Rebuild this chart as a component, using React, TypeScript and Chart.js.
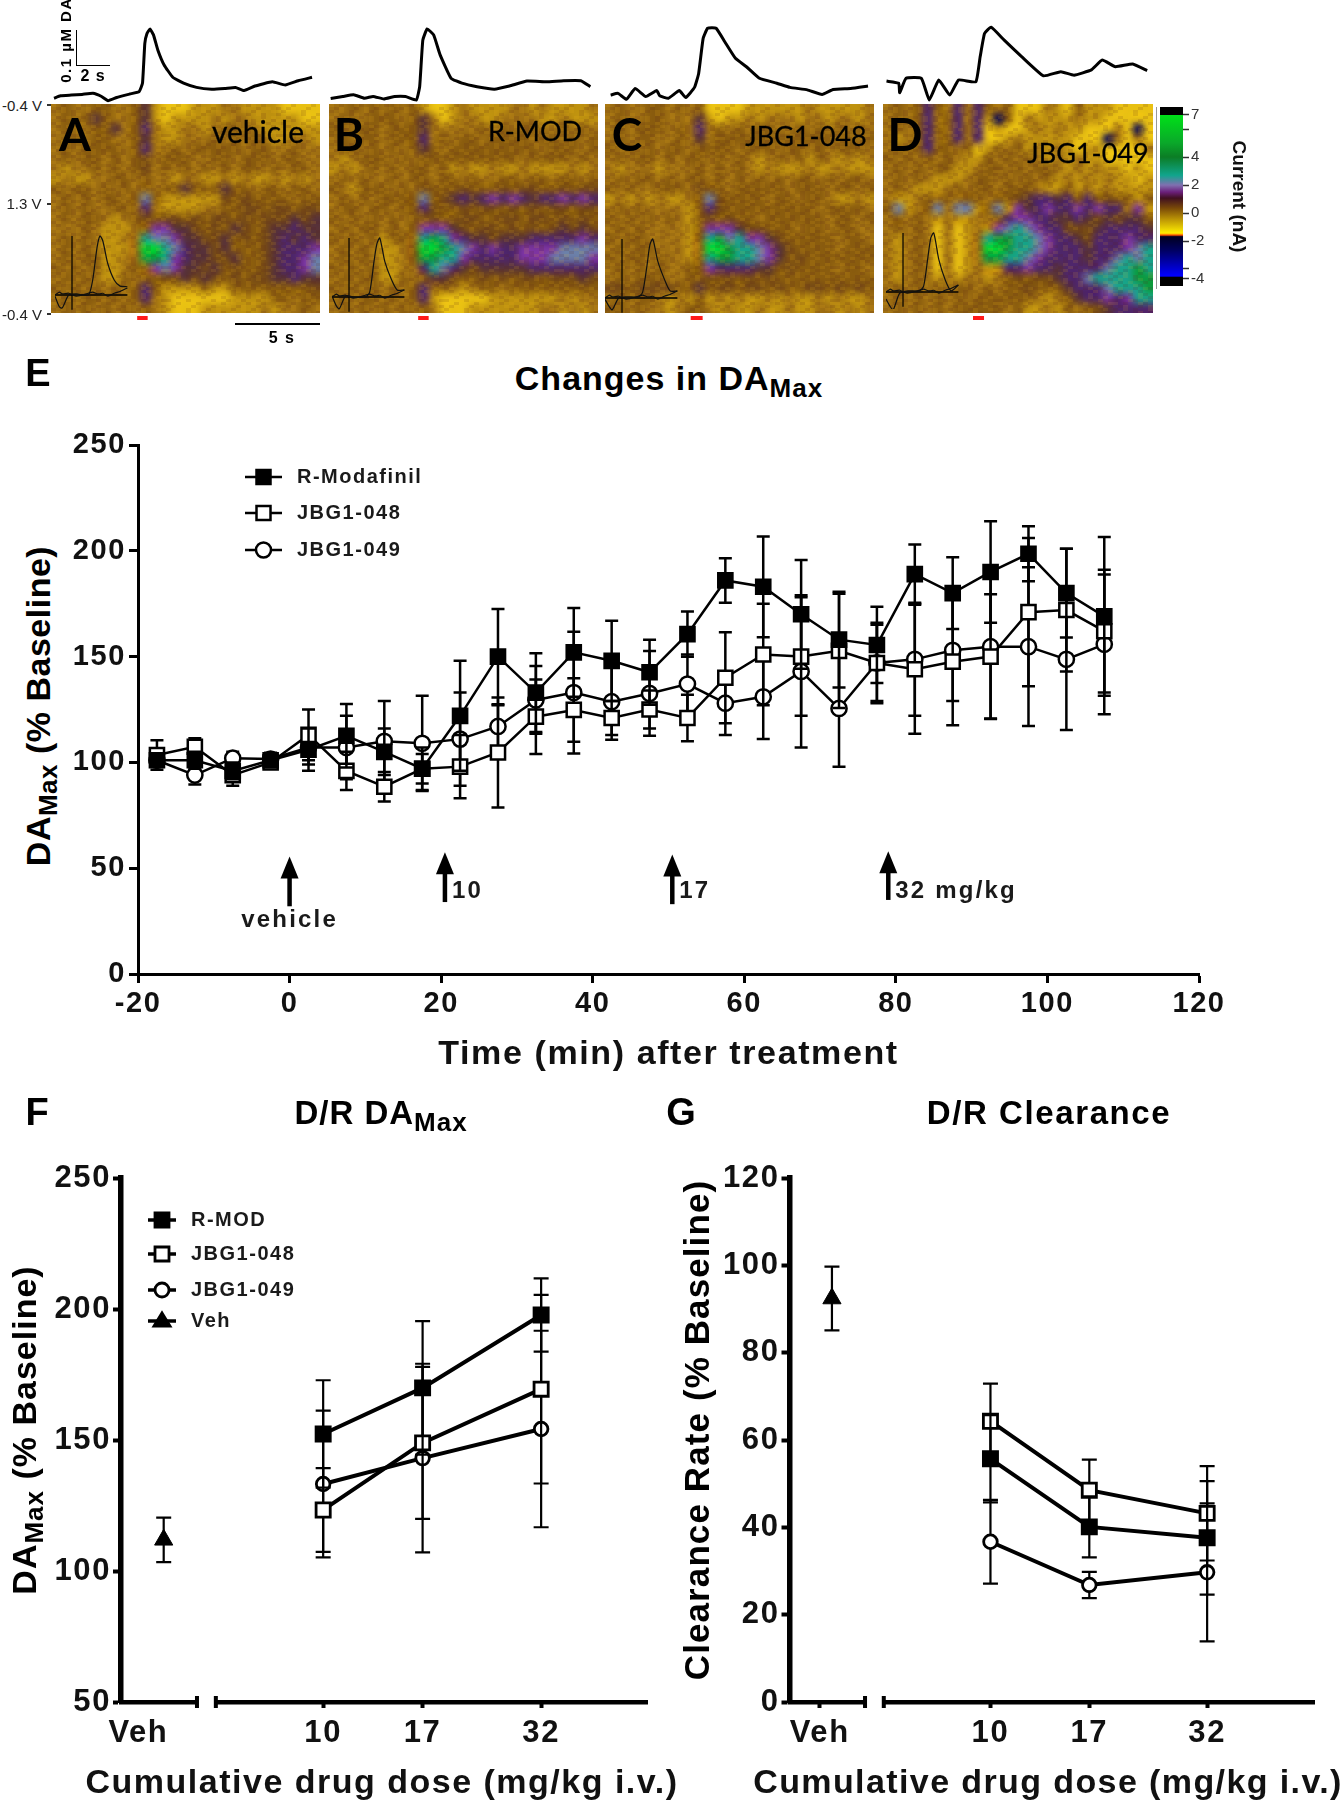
import React, { useEffect, useRef } from 'react';
import { Chart, registerables } from 'chart.js';
Chart.register(...registerables);

/* ---------- Panel E data ---------- */
const timePoints = [-17.5,-12.5,-7.5,-2.5,2.5,7.5,12.5,17.5,22.5,27.5,32.5,37.5,42.5,47.5,52.5,57.5,62.5,67.5,72.5,77.5,82.5,87.5,92.5,97.5,102.5,107.5];
const rModMean = [101,101,96,101,106,112.6,105,97,122,150,133,152,148,142.6,160.6,186,183,170,158,155.5,189,180,190,198.6,180,169];
const rModErr = [3,4,4,3,10,15,11,10,26,22.5,18.6,21,19,15.4,10.7,10.5,23.8,25.7,22.6,18,14,17,24,13,21,37.5];
const j048Mean = [103.5,107.4,94,100,113,96,88.5,97,98,104.7,121.6,124.8,121,125,121,140,151,150,152.7,147,144,147.6,150,171,172,162];
const j048Err = [7,4,5,3,12,9,7,7,15,26,17.6,15,8,9,11,21.5,24,28,27,19,30.5,30,29.5,35,29,29];
const j049Mean = [101,94,102,101.6,107,107,110,109,111,117,129.5,133,128.7,132.6,137,128,131,143,125.5,147,148.7,153,154.7,154.7,148.7,155.8];
const j049Err = [3,4.5,3,3,8,15,19,22.5,22,10,16,28.8,18,20,14,15,20,36,27.5,18,26.7,24,34,37.5,33.4,33];
const arrowTimes = [0,20.5,50.5,79];
const arrowTips = [55.5,57.5,56.5,58];
const arrowBases = [32,34,33,35];
const arrowLabels = ['vehicle','10','17','32 mg/kg'];

/* ---------- Panels F, G data ---------- */
const doses = [10,17,32];
const vehDose = 4.27;
const fRMod = [152.3,169.9,197.7];
const fRModErr = [20.5,25.5,14];
const f048 = [123.3,148.9,169.4];
const f048Err = [16,29,36];
const f049 = [133.2,143.1,154.2];
const f049Err = [28,36,37.5];
const fVeh = [111.9];
const fVehErr = [8.5];
const gRMod = [55.7,40.1,37.6];
const gRModErr = [10,7,13];
const g048 = [64.3,48.5,43.2];
const g048Err = [8.6,7,10.8];
const g049 = [36.7,26.8,29.7];
const g049Err = [9.6,3,15.8];
const gVeh = [92.4];
const gVehErr = [7.3];

/* ---------- Traces above the colour plots (s, µM) ---------- */
const traceAT = [.18,.57,1.22,1.87,2.52,3.04,3.43,3.95,4.73,5.3,5.5,5.64,5.77,5.95,6.16,6.42,6.8,7.32,7.97,8.75,9.66,10.44,11.09,11.61,12.26,13.3,14.08,14.86,15.69];
const traceAV = [.005,.012,.014,.016,.019,.01,-.002,.007,.017,.024,.048,.162,.19,.203,.186,.143,.1,.065,.048,.036,.031,.033,.036,.027,.04,.052,.043,.055,.065];
const traceBT = [.1,.83,1.48,2.13,2.65,3.3,3.95,4.6,5.25,5.45,5.64,5.9,6.29,6.68,7.34,7.99,8.9,9.94,10.85,11.9,13.06,14.1,15.14,15.71];
const traceBV = [.004,.01,.015,.005,.01,.003,.01,.01,0,.038,.171,.203,.186,.129,.062,.048,.038,.031,.04,.054,.052,.055,.055,.038];
const traceCT = [.34,.78,1.29,1.81,2.45,3.11,3.29,3.81,4.47,4.85,5.38,5.63,5.9,6.17,6.68,7.19,7.84,8.5,9.28,10.33,11.12,12.16,13.05,13.71,14.77,15.81];
const traceCV = [.014,.019,.002,.033,.01,.027,.012,.005,.027,.007,.036,.076,.176,.205,.205,.167,.119,.095,.062,.048,.036,.029,.016,.03,.033,.04];
const traceDT = [.21,.94,1,1.38,2.3,2.77,3.34,4,4.52,5.56,5.82,6.08,6.47,7.26,8.3,9.61,10.65,11.44,12.48,13.13,13.92,14.96,15.82];
const traceDV = [.054,.048,.021,.062,.062,0,.057,.014,.057,.052,.124,.19,.208,.171,.124,.069,.081,.071,.086,.114,.095,.103,.084];

/* ---------- Inset voltammograms ---------- */
const cvPotential = [0,.06,.1,.19,.3,.46,.52,.58,.62,.66,.73,.82,.9,1];
const cvA = [-.02,-.2,-.22,0,.02,0,.25,.8,1,.92,.53,.25,.15,.14];
const cvB = [.02,-.15,-.2,.02,0,0,.08,.6,.9,1,.6,.3,.12,.12];
const cvC = [-.02,-.15,-.2,0,.02,.02,.1,.55,.9,1,.62,.32,.12,.12];
const cvD = [-.12,-.25,-.3,-.02,.02,.02,.1,.6,.92,1,.55,.2,.02,.12];
const cvReturn = [0,.05,.02,.03,-.02,.03,.05,.02,.02,.03,-.02,.03,.06,.12];

/* ---------- Colour plots: one character per cell, see heatLevels ---------- */
const heatA = [
".,..,,..,pyYYYyyy..yyyyYYYY",
".,.,p,..,pyYyyyy.y..yyyyyYY",
".,..,,p.,P.yy..y.,,..yyyyyy",
"..,.,,..,p.yy...,.,.,.yy..y",
".,.,,,,.,P..,.,,,,,.,,..,..",
".,.,,.,.,-.,,,..,,.,,,.,,..",
".y..,.,.,-.,.,.,.,.,,.,.,,.",
"y.yy..,,.,..y..yy.y.yy.y.y.",
",.,,.,.,.,.,,p,,,p,,.,,.,,.",
".,.,.,,.,g,yyyyyy-,-,,,,.,,",
".,.,..,,.P.yyyy..,,--,--,--",
".,.,,.y.,-,--,-,--,-,---p-p",
"...,.yyy.,VVpp-,-,p-,-ppPpp",
".,.,.yy..tggVpp--p,-,-pPpPp",
".,.,.yyy.BBtgPpp-p,,,-pPPPV",
".,.,,yy..GGtVPpp--p,,-pPPVg",
",.,.,yy.,.VgVpp-p,-,,-pPPVg",
".,.,.yy,.,,--p-p-,-,--ppPpp",
",.,.,.,.,P,yyyy,yy,,,,,,,,-",
".,.,,.,.,P.yYYYYYYyyyy,,.,,",
".,.,.,.,.,.yYYYyyyyyy.y..,.",
];
const heatB = [
"..,.,.,.,yYYy.yyyy..y.yyyy.",
".,..,,,.,p.Yy..yy....yy.yyy",
",,.,,.,,,p.....,.,.,,..,.,.",
".,.,,.,,,P.,.,,.,,,,.,,.,.,",
".,,.,.,.,p,.,,,,,,,,,.,,,.,",
".y.,,,.,.,,,,,,,,,,.,,,,.,.",
"y.y.,.,.,,.,y.yy.yy.yyyy.y.",
".,.,..,.,,.,,.,..,,.,,.,,.,",
",.y,,,.,.-,,,-,,,-,--,,-,--",
".,.,.,,,,g,-pPpPVPVPpPPVPVP",
".,,.,,.,,P-,,-,--,-,-,--,--",
",.,.,.,.,,-,,--,,--,--,-,-,",
".,.,,.,.,VVVp-,--,-,-,-p-p-",
",.,.,y,,.tGtVPpp-pppPPPPPVP",
".,.,.yy.,BBGtgVPVPPVVVVgggg",
".,.,.yy.,GGttVPPPPPVVVggggV",
",.,.,yy..PtgPp-pppppPPPPPPP",
".,.,,yy,.,pp-,,-,-,--,---p-",
",.,.,.,.,P.,.y.,,.,,,,,,,,,",
".,.,,.,.,PyYYYYYyyyyyyy.y..",
".,.,.,.,.,.YYYyyyyyyy..y.y.",
];
const heatC = [
".,..,,.,.,YYYYyyyyyy.yyyyy.",
".,..,,...pyYyy.y...y..y..y.",
".,.,,,.,.P.,.,.,,..,.,.,.,.",
".,.,,..,.p.,,,,,,,,,,,,.,.,",
",.,.,.,,.,,,,.,,,.,,.,.,,,.",
".,.,,.,.,,.,.,.y.,.,y,.y.y.",
".y...y...,.,.,.y.yyy.yy.yyy",
".,.,,.,.,,.,.,.,.,.,,.,.,,.",
",.,..,,,.-,,.,,,,,.,,,.,,.,",
"y.y.y.yy.,g-,,,,.,,.,,.yy.y",
".,.,....y,P-,,,,,,,,,.,,,,.",
",.,.,.,.y,-,-,,.,,,,,,.,,.,",
".,.,....y,VVVp--,,,.,,.,,..",
",.,,....y,tGgtVVp-,,,,,.,,.",
".,.,,...y.BBGttgVp-,,,,.,,,",
",.,,.,..y,tGGttgVp,-,,,,,,,",
".,.,.,..,,VPPPPpp,-,,,,.,,.",
".,.,,,..,,-,-,-,-,,,,,,,,,,",
"--,----,,p,--,--,-,,--,-,-,",
".,.,,.y.y,y.y.yy.y.yy.y.yy.",
",,.,..y.,,.y.yy.yy.yy..y.y.",
];
const heatD = [
".,.,P,.P.P,.,YYY.yY,yyyYYYY",
".,.,P.,P.Pyn,Y.yyyy.yyYYYYY",
".,.,P,.P.PYyYYy.y.yyYYY.YnY",
".y.,P.,P.PYYy.yyyyyYYYn.Y.Y",
".,.,P,,.,Yy,.,y.y.yYyyYYYY.",
",.,.,.,.yy,.,.,.y.y.yyYYYYY",
".,.,.,,yy.,,.,.,,.y.y.yyYyY",
".,.,.yyy.,,.,.,.,y.y.y.yyYy",
".,.yyy.,.,,.,,,.yy,y.y.yyyy",
".yy.,.,.,,.,,-pPPpP,P,-,,y,",
",gy.,g.ggy,gyVpPVPPVPVPP.Vy",
".,.,.y.yy..,PVVPPppPp-p-pp,",
".,.,.Y.Yy.yVgtgVPP---pPPPPp",
".y.,.Y.Yy.tGGttgVPPp-PPPVPP",
".y.,.Y.Yy.BBGttgVPPPpPPPVgt",
".y.,.Y.Yy.GGttgVPPPPpPPgtgt",
".y.,.Y.Yy.yyPPVPPpPPPPgttGt",
".y.,.y.y..y.,-,--pPPgttttGG",
".,.,.,.,,.,.,,-,,,pPPPgtttG",
".,.,.,.,.,,,,,,.y.,pPPVPVtt",
".,.,.,.,,,,,.,yy.y,.,-pPPPP",
];
const heatLevels: Record<string, number[]> = {
  '.': [160,112,18], ',': [138,92,14], '-': [118,74,22], y: [190,145,15], Y: [232,192,18],
  p: [88,50,56], P: [79,38,106], V: [123,52,158], g: [106,122,165], t: [26,160,136],
  G: [12,154,64], B: [0,216,50], n: [0,0,85],
};
const heatGrain = [
"+.-..+-..+.-.+..-+.-..+",
".-+..-.+.-..+.-+..-.+.-",
"-.+.-..+-.+..-.+.-+..+.",
".+..-+.-..+-.+..-.+-..-",
"+-.+..-.+.-..+-.+..-.+.",
"..-.+-..+.-+..-.+-.+.-+",
"-+..-.+-..+.-.+..-+.-..",
".-.+.-..+-.+.-+.-..+.-+",
"+..-.+-.-.+..-.+-.+..-.",
".+-..+.-+..-.+..-.+-.+.",
"-..+-.+..-+.-.+-..-.+.-",
];
const stimA = [5.18,5.81];
const stimB = [5.36,5.99];
const stimC = [5.15,5.87];
const stimD = [5.39,6.05];

/* ---------- Colour bar ---------- */
const currentTicks = [7,6,4,2,0,-2,-3.93,-4.7];
const currentTickLabels = ['7','','4','2','0','-2','','-4'];
const currentValues = [7.57,7.0,6.99,5,4,2.7,2,1.5,1.07,.35,-.5,-1.43,-1.57,-1.68,-2.64,-4.5,-4.57,-5.2];
const currentColours = ['#000','#000','#00e018','#0aa82a','#0b7d25','#10a58c','#8070b0','#6b1f7a','#401020','#7a4a08','#c09a05','#ffee00','#ff5000','#000020','#000060','#0000ff','#000','#000'];

/* ---------- helpers ---------- */
const SANS = '"Liberation Sans", Arial, sans-serif';
const BLACK = '#000';
const xy = (xs: number[], ys: number[]) => xs.map((x, i) => ({ x, y: ys[i] }));

function Plot({ left, top, width, height, make }: any) {
  const ref = useRef<HTMLCanvasElement>(null);
  useEffect(() => {
    const c = new Chart(ref.current as any, make());
    return () => c.destroy();
  }, []);
  return <canvas ref={ref} width={width} height={height} style={{ position: 'absolute', left, top, width, height }} />;
}

function T({ x, y, size, weight = 'normal', family = SANS, rot = 0, color = '#000', spacing = 0, children, stroke = 0 }: any) {
  return (
    <div style={{
      position: 'absolute', left: x, top: y, transform: `translate(-50%,-50%) rotate(${rot}deg)`,
      whiteSpace: 'nowrap', fontFamily: family, fontSize: size, fontWeight: weight, color,
      letterSpacing: spacing, lineHeight: 1, WebkitTextStroke: stroke ? `${stroke}px ${color}` : undefined,
    }}>{children}</div>
  );
}
const Sub = ({ children, size }: any) => <span style={{ fontSize: size, position: 'relative', top: '0.28em' }}>{children}</span>;
const Box = ({ l, t, w, h, c = '#000' }: any) => <div style={{ position: 'absolute', left: l, top: t, width: w, height: h, background: c }} />;

const base = (extra: any = {}) => ({
  responsive: false, animation: false, devicePixelRatio: 1,
  plugins: { legend: { display: false }, tooltip: { enabled: false }, title: { display: false } },
  ...extra,
});

const wideText = (spacing: string) => ({
  id: 'wideText',
  beforeDraw(chart: any) { chart.ctx.letterSpacing = spacing; },
});

const errorBars = (capHalf: number, lw: number) => ({
  id: 'errorBars',
  beforeDatasetDraw(chart: any, args: any) {
    const ds = chart.data.datasets[args.index];
    if (!ds.err) return;
    const { x, y } = chart.scales;
    const ctx = chart.ctx;
    ctx.save();
    ctx.strokeStyle = BLACK;
    ctx.lineWidth = lw;
    ds.data.forEach((p: any, i: number) => {
      const px = x.getPixelForValue(p.x);
      const hi = y.getPixelForValue(p.y + ds.err[i]);
      const lo = y.getPixelForValue(p.y - ds.err[i]);
      ctx.beginPath();
      ctx.moveTo(px, hi); ctx.lineTo(px, lo);
      ctx.moveTo(px - capHalf, hi); ctx.lineTo(px + capHalf, hi);
      ctx.moveTo(px - capHalf, lo); ctx.lineTo(px + capHalf, lo);
      ctx.stroke();
    });
    ctx.restore();
  },
});

function marker(ctx: any, kind: string, x: number, y: number, size: number, bw: number) {
  ctx.save();
  ctx.lineWidth = bw;
  ctx.strokeStyle = BLACK;
  ctx.fillStyle = kind === 'open' || kind === 'circle' ? '#fff' : BLACK;
  ctx.beginPath();
  if (kind === 'circle') ctx.arc(x, y, size / 2, 0, Math.PI * 2);
  else if (kind === 'tri') { ctx.moveTo(x, y - size / 2 - 2); ctx.lineTo(x + size / 2 + 2, y + size / 2 - 1); ctx.lineTo(x - size / 2 - 2, y + size / 2 - 1); ctx.closePath(); }
  else ctx.rect(x - size / 2, y - size / 2, size, size);
  ctx.fill(); ctx.stroke();
  ctx.restore();
}

const legendPlugin = (items: any[], o: any) => ({
  id: 'customLegend',
  afterDraw(chart: any) {
    const ctx = chart.ctx;
    items.forEach((it) => {
      ctx.save();
      ctx.strokeStyle = BLACK; ctx.lineWidth = o.lw;
      ctx.beginPath(); ctx.moveTo(o.x0, it.y); ctx.lineTo(o.x1, it.y); ctx.stroke();
      marker(ctx, it.kind, (o.x0 + o.x1) / 2, it.y, it.size, o.bw);
      ctx.fillStyle = '#1a1a1a';
      ctx.font = `bold ${o.font}px ${SANS}`;
      ctx.letterSpacing = o.spacing;
      ctx.textBaseline = 'middle';
      ctx.fillText(it.label, o.tx, it.y);
      ctx.restore();
    });
  },
});

const series = (data: any[], err: number[], kind: string, order: number, lw: number, r: number, bw: number) => ({
  type: 'scatter', showLine: kind !== 'tri', data, err, order, clip: false,
  borderColor: BLACK, borderWidth: lw, tension: 0,
  pointStyle: kind === 'circle' ? 'circle' : kind === 'tri' ? 'triangle' : 'rect',
  pointRadius: r, pointHoverRadius: r,
  pointBackgroundColor: kind === 'filled' || kind === 'tri' ? BLACK : '#fff',
  pointBorderColor: BLACK, pointBorderWidth: bw,
});

/* ---------- Panel E ---------- */
const makeE = () => ({
  type: 'scatter',
  data: {
    datasets: [
      series(xy(timePoints, rModMean), rModErr, 'filled', 0, 2.5, 10, 2.5),
      series(xy(timePoints, j048Mean), j048Err, 'open', 1, 2.5, 10, 2.5),
      series(xy(timePoints, j049Mean), j049Err, 'circle', 2, 2.5, 7.6, 2.5),
    ],
  },
  options: base({
    layout: { padding: { left: 0, right: 144, top: 45, bottom: 0 } },
    scales: {
      x: {
        type: 'linear', min: -20, max: 120,
        afterFit: (s: any) => { s.height = 126; },
        ticks: { stepSize: 20, color: '#111', padding: 4, maxRotation: 0, font: { family: SANS, size: 29, weight: 'bold' } },
        grid: { drawOnChartArea: false, tickLength: 9, tickWidth: 3, tickColor: BLACK },
        border: { color: BLACK, width: 3 },
        title: { display: true, text: 'Time (min) after treatment', color: '#111', padding: { top: 0, bottom: 25 }, font: { family: SANS, size: 34, weight: 'bold' } },
      },
      y: {
        type: 'linear', min: 0, max: 250,
        afterFit: (s: any) => { s.width = 138; },
        ticks: { stepSize: 50, color: '#111', padding: 3, font: { family: SANS, size: 29, weight: 'bold' } },
        grid: { drawOnChartArea: false, tickLength: 9, tickWidth: 3, tickColor: BLACK },
        border: { color: BLACK, width: 3 },
      },
    },
  }),
  plugins: [
    wideText('1.6px'),
    errorBars(6.5, 2.5),
    legendPlugin([
      { label: 'R-Modafinil', kind: 'filled', size: 14, y: 77 },
      { label: 'JBG1-048', kind: 'open', size: 14, y: 113 },
      { label: 'JBG1-049', kind: 'circle', size: 15, y: 150 },
    ], { x0: 245, x1: 282, tx: 297, lw: 2.5, bw: 2.5, font: 20, spacing: '1.5px' }),
    {
      id: 'doseArrows',
      afterDraw(chart: any) {
        const { x, y } = chart.scales;
        const ctx = chart.ctx;
        ctx.save();
        ctx.fillStyle = BLACK; ctx.strokeStyle = BLACK;
        arrowTimes.forEach((t, i) => {
          const px = x.getPixelForValue(t);
          const tip = y.getPixelForValue(arrowTips[i]);
          const bot = y.getPixelForValue(arrowBases[i]);
          ctx.lineWidth = 4.5;
          ctx.beginPath(); ctx.moveTo(px, tip + 15); ctx.lineTo(px, bot); ctx.stroke();
          ctx.beginPath(); ctx.moveTo(px, tip); ctx.lineTo(px + 9, tip + 22); ctx.lineTo(px - 9, tip + 22); ctx.closePath(); ctx.fill();
          ctx.font = `bold 24px ${SANS}`;
          ctx.letterSpacing = '2.2px';
          ctx.textBaseline = 'middle';
          ctx.fillStyle = '#1a1a1a';
          if (i === 0) {
            ctx.textAlign = 'center';
            ctx.fillText(arrowLabels[i], px, y.getPixelForValue(25.5));
          } else {
            ctx.textAlign = 'left';
            ctx.fillText(arrowLabels[i], px + 7, y.getPixelForValue(39));
          }
          ctx.fillStyle = BLACK;
        });
        ctx.restore();
      },
    },
  ],
});

/* ---------- Panels F, G ---------- */
const BREAK_DOSES = [5.1, 5.64];
const makeDose = (o: any) => () => ({
  type: 'scatter',
  data: {
    datasets: [
      series(xy(doses, o.r), o.rE, 'filled', 0, 4, 10, 2.8),
      series(xy(doses, o.a), o.aE, 'open', 1, 4, 10, 2.8),
      series(xy(doses, o.b), o.bE, 'circle', 2, 4, 6.8, 2.8),
      series(xy([vehDose], o.v), o.vE, 'tri', 3, 2, 10.5, 1),
    ],
  },
  options: base({
    layout: { padding: { left: 0, right: o.padRight, top: 48, bottom: 0 } },
    scales: {
      x: {
        type: 'logarithmic', min: o.xMin, max: o.xMax,
        afterFit: (s: any) => { s.height = 98; },
        afterBuildTicks: (s: any) => { s.ticks = [o.vehTick, ...doses].map((value) => ({ value })); },
        ticks: {
          autoSkip: false, maxRotation: 0, minRotation: 0, color: '#111', padding: 7,
          callback: (v: number) => (v === o.vehTick ? 'Veh' : String(v)),
          font: { family: SANS, size: 31, weight: 'bold' },
        },
        grid: {
          drawOnChartArea: false, tickLength: 6, tickWidth: 4,
          tickColor: (c: any) => (c.tick && c.tick.value === o.vehTick && !o.showVehTick ? 'rgba(0,0,0,0)' : BLACK),
        },
        border: { display: false },
      },
      y: {
        type: 'linear', min: o.yMin, max: o.yMax,
        afterFit: (s: any) => { s.width = o.axisWidth; },
        ticks: { stepSize: o.yStep, color: '#111', padding: 2, font: { family: SANS, size: 31, weight: 'bold' } },
        grid: { drawOnChartArea: false, tickLength: 8, tickWidth: 4, tickColor: BLACK },
        border: { color: BLACK, width: 5.5 },
      },
    },
  }),
  plugins: [
    wideText('1.6px'),
    errorBars(7.5, 2.2),
    ...(o.legend ? [legendPlugin(o.legend, { x0: 148, x1: 176, tx: 191, lw: 3.5, bw: 2.8, font: 20, spacing: '1.5px' })] : []),
    {
      id: 'brokenAxis',
      beforeDatasetsDraw(chart: any) {
        const { x } = chart.scales;
        const { bottom, left, right } = chart.chartArea;
        const a = x.getPixelForValue(BREAK_DOSES[0]);
        const b = x.getPixelForValue(BREAK_DOSES[1]);
        const ctx = chart.ctx;
        ctx.save();
        ctx.fillStyle = BLACK;
        ctx.fillRect(left - 2, bottom - 2, a - left + 2, 4.5);
        ctx.fillRect(b, bottom - 2, right - b, 4.5);
        ctx.fillRect(a - 2, bottom - 6, 4, 12);
        ctx.fillRect(b - 2, bottom - 6, 4, 12);
        ctx.restore();
      },
    },
  ],
});

/* ---------- Colour plots ---------- */
const makeHeat = (grid: string[], stim: number[]) => () => ({
  type: 'scatter',
  data: { datasets: [] },
  options: base({
    layout: { padding: { left: 0, right: 0, top: 0, bottom: 8 } },
    scales: {
      x: { type: 'linear', min: 0, max: 16.17, display: false },
      y: { type: 'linear', min: 0, max: 1, display: false },
    },
  }),
  plugins: [{
    id: 'heat',
    beforeDatasetsDraw(chart: any) {
      const { left, top, width, height, bottom, right } = chart.chartArea;
      const rows = grid.length;
      const cols = grid[0].length;
      const off = document.createElement('canvas');
      off.width = cols; off.height = rows;
      const octx = off.getContext('2d') as any;
      const img = octx.createImageData(cols, rows);
      grid.forEach((row, r) => {
        for (let c = 0; c < cols; c++) {
          const col = heatLevels[row[c]] || heatLevels['.'];
          const k = (r * cols + c) * 4;
          img.data[k] = col[0]; img.data[k + 1] = col[1]; img.data[k + 2] = col[2]; img.data[k + 3] = 255;
        }
      });
      octx.putImageData(img, 0, 0);
      const ctx = chart.ctx;
      ctx.save();
      ctx.imageSmoothingEnabled = true;
      ctx.imageSmoothingQuality = 'high';
      ctx.drawImage(off, left, top, width, height);
      ctx.beginPath(); ctx.rect(left, top, width, height); ctx.clip();
      const gw = heatGrain[0].length;
      const gh = heatGrain.length;
      for (let py = top, r = 0; py < bottom; py += 3, r++) {
        for (let px = left, c = 0; px < right; px += 5, c++) {
          const g = heatGrain[r % gh][c % gw];
          if (g === '.') continue;
          ctx.fillStyle = g === '+' ? 'rgba(255,190,30,0.11)' : 'rgba(90,35,25,0.14)';
          ctx.fillRect(px, py, 5, 3);
        }
      }
      ctx.restore();
      ctx.save();
      const { x } = chart.scales;
      ctx.fillStyle = '#ff1a1a';
      ctx.fillRect(x.getPixelForValue(stim[0]), bottom + 3, x.getPixelForValue(stim[1]) - x.getPixelForValue(stim[0]), 4);
      ctx.restore();
    },
  }],
});

const makeTrace = (t: number[], v: number[]) => () => ({
  type: 'scatter',
  data: { datasets: [{ showLine: true, data: xy(t, v), borderColor: BLACK, borderWidth: 3, pointRadius: 0, tension: 0.12, clip: false }] },
  options: base({
    layout: { padding: 0 },
    scales: {
      x: { type: 'linear', min: 0, max: 16.17, display: false },
      y: { type: 'linear', min: -0.0143, max: 0.2857, display: false },
    },
  }),
});

const makeInset = (cv: number[], axisX: number) => () => ({
  type: 'scatter',
  data: {
    datasets: [
      { showLine: true, data: xy(cvPotential, cv), borderColor: '#111', borderWidth: 1.2, pointRadius: 0, tension: 0.25, clip: false },
      { showLine: true, data: xy(cvPotential, cvReturn), borderColor: '#111', borderWidth: 1.2, pointRadius: 0, tension: 0.2, clip: false },
      { showLine: true, data: xy([0, 1], [0, 0]), borderColor: '#000', borderWidth: 1.6, pointRadius: 0, clip: false },
      { showLine: true, data: xy([axisX, axisX], [-.25, 1]), borderColor: '#000', borderWidth: 1.2, pointRadius: 0, clip: false },
    ],
  },
  options: base({
    layout: { padding: 0 },
    scales: {
      x: { type: 'linear', min: 0, max: 1.05, display: false },
      y: { type: 'linear', min: -0.288, max: 1.068, display: false },
    },
  }),
});

/* ---------- Colour bar ---------- */
const makeBar = () => ({
  type: 'bar',
  data: {
    labels: ['Current'],
    datasets: [{
      data: [[currentValues[currentValues.length - 1], currentValues[0]]],
      barPercentage: 1, categoryPercentage: 1, borderWidth: 0,
      backgroundColor: (c: any) => {
        const { chart } = c;
        const a = chart.chartArea;
        if (!a) return '#000';
        const sc = chart.scales.y;
        const g = chart.ctx.createLinearGradient(0, a.top, 0, a.bottom);
        currentValues.forEach((v, i) => {
          const off = (sc.getPixelForValue(v) - a.top) / (a.bottom - a.top);
          g.addColorStop(Math.min(1, Math.max(0, off)), currentColours[i]);
        });
        return g;
      },
    }],
  },
  options: base({
    layout: { padding: { left: 10, right: 0, top: 12, bottom: 14 } },
    scales: {
      x: { display: false, grid: { display: false } },
      y: {
        position: 'right', min: -5.2, max: 7.57,
        afterFit: (s: any) => { s.width = 67; },
        afterBuildTicks: (s: any) => { s.ticks = currentTicks.map((value) => ({ value })); },
        ticks: {
          autoSkip: false, color: '#333', padding: 2, font: { family: SANS, size: 15, weight: 'normal' },
          callback: (v: number) => currentTickLabels[currentTicks.indexOf(v)],
        },
        grid: { drawOnChartArea: false, tickLength: 6, tickWidth: 1.5, tickColor: '#333' },
        border: { display: false },
        title: { display: true, text: 'Current (nA)', color: '#111', padding: { top: 0, bottom: 31 }, font: { family: SANS, size: 19, weight: 'bold' } },
      },
    },
  }),
});

const fLegend = [
  { label: 'R-MOD', kind: 'filled', size: 14, y: 90 },
  { label: 'JBG1-048', kind: 'open', size: 14, y: 124 },
  { label: 'JBG1-049', kind: 'circle', size: 14, y: 160 },
  { label: 'Veh', kind: 'tri', size: 12, y: 191 },
];

const heatPanels = [
  { left: 51, w: 269, grid: heatA, stim: stimA, t: traceAT, v: traceAV, cv: cvA, insetX: 55, base: 295, axis: .235, letter: 'A', lx: 75, label: 'vehicle', tx: 258, ty: 131, ls: 30 },
  { left: 329, w: 269, grid: heatB, stim: stimB, t: traceBT, v: traceBV, cv: cvB, insetX: 332, base: 297, axis: .235, letter: 'B', lx: 349, label: 'R-MOD', tx: 535, ty: 130, ls: 27 },
  { left: 605, w: 269, grid: heatC, stim: stimC, t: traceCT, v: traceCV, cv: cvC, insetX: 605, base: 298, axis: .235, letter: 'C', lx: 627, label: 'JBG1-048', tx: 806, ty: 135, ls: 27 },
  { left: 883, w: 270, grid: heatD, stim: stimD, t: traceDT, v: traceDV, cv: cvD, insetX: 886, base: 292, axis: .235, letter: 'D', lx: 905, label: 'JBG1-049', tx: 1088, ty: 152, ls: 27 },
];

export default function App() {
  return (
    <div style={{ position: 'absolute', left: 0, top: 0, width: 1343, height: 1800, background: '#fff', overflow: 'hidden' }}>
      {heatPanels.map((p) => (
        <React.Fragment key={p.letter}>
          <Plot left={p.left} top={0} width={p.w} height={105} make={makeTrace(p.t, p.v)} />
          <Plot left={p.left} top={104} width={p.w} height={217} make={makeHeat(p.grid, p.stim)} />
          <Plot left={p.insetX} top={p.base - 63} width={76} height={80} make={makeInset(p.cv, p.axis)} />
          <T x={p.lx} y={134} size={46} weight="bold" family="Lato, sans-serif">{p.letter}</T>
          <T x={p.tx} y={p.ty} size={p.ls} family="Lato, sans-serif" stroke={0.3}>{p.label}</T>
        </React.Fragment>
      ))}

      {/* voltage labels */}
      <T x={22} y={105} size={15} color="#222">-0.4 V</T>
      <T x={24} y={203} size={15} color="#222">1.3 V</T>
      <T x={22} y={314} size={15} color="#222">-0.4 V</T>
      <Box l={47} t={104} w={4} h={1.5} c="#333" />
      <Box l={47} t={203} w={4} h={1.5} c="#333" />
      <Box l={47} t={313} w={4} h={1.5} c="#333" />

      {/* scale bars */}
      <Box l={75.5} t={30} w={1.5} h={35} />
      <Box l={75.5} t={64.5} w={34} h={1.5} />
      <T x={65} y={40} size={15} weight="bold" rot={-90} spacing={1.5}>0.1 µM DA</T>
      <T x={93} y={76} size={16} weight="bold" spacing={1}>2 s</T>
      <Box l={235} t={323} w={85} h={1.5} />
      <T x={282} y={338} size={16} weight="bold" spacing={1.5}>5 s</T>

      <Box l={1156} t={107} w={1} h={182} c="#999" />
      <Plot left={1150} top={95} width={100} height={205} make={makeBar} />

      {/* panel E */}
      <T x={38} y={373} size={38} weight="bold">E</T>
      <T x={669} y={378} size={34} weight="bold" spacing={1}>Changes in DA<Sub size={26}>Max</Sub></T>
      <T x={38} y={706} size={34} weight="bold" rot={-90} spacing={0.5}>DA<Sub size={26}>Max</Sub> (% Baseline)</T>
      <Plot left={0} top={400} width={1343} height={700} make={makeE} />

      {/* panel F */}
      <T x={37} y={1112} size={38} weight="bold">F</T>
      <T x={381} y={1112} size={33} weight="bold" spacing={1}>D/R DA<Sub size={26}>Max</Sub></T>
      <T x={24} y={1430} size={34} weight="bold" rot={-90} spacing={1}>DA<Sub size={26}>Max</Sub> (% Baseline)</T>
      <Plot left={0} top={1130} width={700} height={670} make={makeDose({
        r: fRMod, rE: fRModErr, a: f048, aE: f048Err, b: f049, bE: f049Err, v: fVeh, vE: fVehErr,
        yMin: 50, yMax: 250, yStep: 50, axisWidth: 121, padRight: 52, xMin: 3.4, xMax: 56.6, vehTick: 3.73,
        showVehTick: false, legend: fLegend,
      })} />
      <T x={382} y={1781} size={34} weight="bold" color="#111" spacing={1.5}>Cumulative drug dose (mg/kg i.v.)</T>

      {/* panel G */}
      <T x={681} y={1112} size={38} weight="bold">G</T>
      <T x={1049} y={1112} size={33} weight="bold" spacing={1.6}>D/R Clearance</T>
      <T x={696} y={1430} size={35} weight="bold" rot={-90} spacing={1.1}>Clearance Rate (% Baseline)</T>
      <Plot left={670} top={1130} width={673} height={670} make={makeDose({
        r: gRMod, rE: gRModErr, a: g048, aE: g048Err, b: g049, bE: g049Err, v: gVeh, vE: gVehErr,
        yMin: 0, yMax: 120, yStep: 20, axisWidth: 119.5, padRight: 28, xMin: 3.4, xMax: 57.1, vehTick: 4,
        showVehTick: true,
      })} />
      <T x={1048} y={1781} size={34} weight="bold" color="#111" spacing={1.4}>Cumulative drug dose (mg/kg i.v.)</T>
    </div>
  );
}
